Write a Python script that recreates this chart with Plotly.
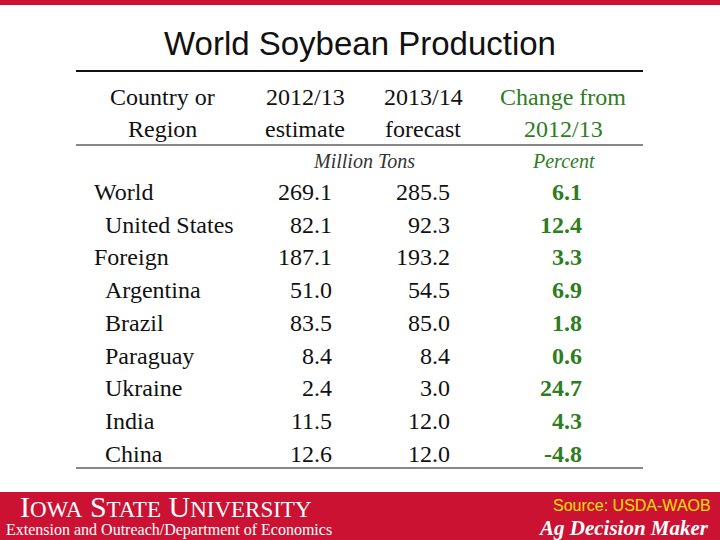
import plotly.graph_objects as go

regions = ["World", "United States", "Foreign", "Argentina", "Brazil",
           "Paraguay", "Ukraine", "India", "China"]
indent = [False, True, False, True, True, True, True, True, True]
est_2012 = ["269.1", "82.1", "187.1", "51.0", "83.5", "8.4", "2.4", "11.5", "12.6"]
fc_2013 = ["285.5", "92.3", "193.2", "54.5", "85.0", "8.4", "3.0", "12.0", "12.0"]
change_pct = ["6.1", "12.4", "3.3", "6.9", "1.8", "0.6", "24.7", "4.3", "-4.8"]

SERIF = "Liberation Serif"
GREEN = "#2E7D1F"
RED = "#CC1233"

fig = go.Figure()
ann = []


def text(x, y, s, size=24, color="#111", xanchor="center", font=SERIF, **kw):
    ann.append(dict(x=x, y=y, text=s, showarrow=False, xanchor=xanchor, yanchor="middle",
                    font=dict(family=font, size=size, color=color), **kw))


text(360, 43, "World Soybean Production", size=33, font="Liberation Sans")

# header
text(162, 97, "Country or", size=24)
text(162, 129, "Region", size=24)
text(305, 97, "2012/13", size=24)
text(305, 129, "estimate", size=24)
text(423, 97, "2013/14", size=24)
text(423, 129, "forecast", size=24)
text(563, 97, "Change from", size=24, color=GREEN)
text(563, 129, "2012/13", size=24, color=GREEN)
text(364, 161, "<i>Million Tons</i>", size=20, color="#333")
text(563, 161, "<i>Percent</i>", size=20, color=GREEN)

for i, name in enumerate(regions):
    y = 192 + i * 32.7
    text(103 if indent[i] else 92, y, name, xanchor="left")
    text(334, y, est_2012[i], xanchor="right")
    text(452, y, fc_2013[i], xanchor="right")
    text(584, y, "<b>" + change_pct[i] + "</b>", xanchor="right", color=GREEN)

# footer
text(18, 506, "I<span style='font-size:23px'>OWA</span> S<span style='font-size:23px'>TATE</span> U<span style='font-size:23px'>NIVERSITY</span>",
     size=30, color="white", xanchor="left")
text(4, 530, "Extension and Outreach/Department of Economics", size=16, color="white", xanchor="left")
text(713, 505, "Source: USDA-WAOB", size=16, color="#FFE000", xanchor="right", font="Liberation Sans")
text(711, 528, "<b><i>Ag Decision Maker</i></b>", size=21, color="white", xanchor="right")

shapes = [
    dict(type="rect", x0=0, x1=720, y0=0, y1=5, fillcolor=RED, line_width=0),
    dict(type="rect", x0=0, x1=720, y0=492, y1=540, fillcolor=RED, line_width=0, layer="below"),
    dict(type="line", x0=76, x1=643, y0=71, y1=71, line=dict(color="#111", width=2)),
    dict(type="line", x0=76, x1=643, y0=145, y1=145, line=dict(color="#111", width=1)),
    dict(type="line", x0=76, x1=643, y0=468, y1=468, line=dict(color="#111", width=1)),
]

fig.update_layout(
    width=720, height=540, margin=dict(l=0, r=0, t=0, b=0),
    plot_bgcolor="white", paper_bgcolor="white",
    xaxis=dict(range=[0, 720], visible=False, fixedrange=True),
    yaxis=dict(range=[540, 0], visible=False, fixedrange=True),
    annotations=ann, shapes=shapes, showlegend=False,
)
fig.write_html("out.html", config={"displayModeBar": False},
               post_script="document.body.style.margin='0';document.body.style.overflow='hidden';")
